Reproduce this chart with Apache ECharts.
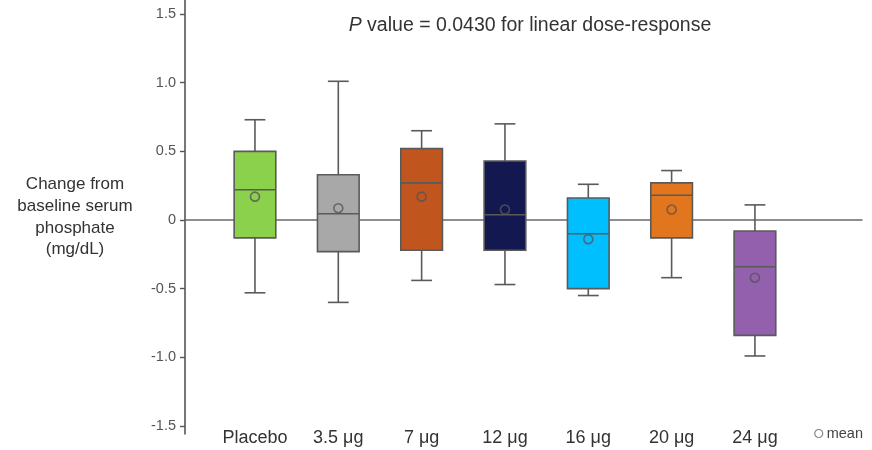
<!DOCTYPE html>
<html><head><meta charset="utf-8">
<script src="https://cdn.jsdelivr.net/npm/echarts@6/dist/echarts.min.js"></script>
<style>html,body{margin:0;padding:0;background:#fff}#c{width:872px;height:450px}</style>
</head><body><div id="c"></div>
<script>
const categories = ['Placebo', '3.5 μg', '7 μg', '12 μg', '16 μg', '20 μg', '24 μg'];
const whiskerLow  = [-0.53, -0.60, -0.44, -0.47, -0.55, -0.42, -0.99];
const q1          = [-0.13, -0.23, -0.22, -0.22, -0.50, -0.13, -0.84];
const medians     = [0.22, 0.045, 0.27, 0.038, -0.10, 0.18, -0.34];
const q3          = [0.50, 0.33, 0.52, 0.43, 0.16, 0.27, -0.08];
const whiskerHigh = [0.73, 1.01, 0.65, 0.70, 0.26, 0.36, 0.11];
const means       = [0.17, 0.086, 0.17, 0.076, -0.14, 0.076, -0.42];
const boxColors   = ['#8BD14B', '#A8A8A8', '#C0561E', '#141850', '#00BFFF', '#E2761E', '#9260AC'];
const yTicks = { min: -1.5, max: 1.5, interval: 0.5 };

const boxData = categories.map((c, i) => [i, whiskerLow[i], q1[i], medians[i], q3[i], whiskerHigh[i]]);
const meanData = categories.map((c, i) => [i, means[i]]);
const lineCol = '#5a5a5a';
const FONT = 'Liberation Sans';

const chart = echarts.init(document.getElementById('c'), null, { renderer: 'canvas' });
chart.setOption({
  animation: false,
  backgroundColor: '#fff',
  title: {
    text: '{i|P} value = 0.0430 for linear dose-response',
    left: 525, top: 11, textAlign: 'center',
    textStyle: { fontFamily: FONT, fontSize: 19.5, fontWeight: 'normal', color: '#333',
      rich: { i: { fontFamily: FONT, fontSize: 19.5, fontStyle: 'italic', color: '#333' } } }
  },
  legend: {
    data: [{ name: 'mean', icon: 'circle', itemStyle: { color: '#fff', borderColor: '#666', borderWidth: 1.2 } }],
    right: 4, bottom: 4, itemWidth: 8, itemHeight: 8, itemGap: 4,
    textStyle: { fontFamily: FONT, fontSize: 14.5, color: '#444', padding: [0, 0, 0, -1] }
  },
  grid: [
    { left: 185, right: 10, top: 0, bottom: 16 },
    { left: 213.3, width: 583.3, top: 14, bottom: 24 }
  ],
  xAxis: [
    { type: 'value', gridIndex: 0, min: 0, max: 1, show: true,
      axisLine: { show: true, onZero: true, lineStyle: { color: '#6a6a6a', width: 1.6 } },
      axisTick: { show: false }, axisLabel: { show: false }, splitLine: { show: false } },
    { type: 'category', gridIndex: 1, data: categories, boundaryGap: true,
      axisLine: { show: false }, axisTick: { show: false },
      axisLabel: { interval: 0, hideOverlap: false, fontFamily: FONT, fontSize: 18, color: '#333', margin: 3 },
      splitLine: { show: false } }
  ],
  yAxis: [
    { type: 'value', gridIndex: 0, min: -1.558, max: 1.602,
      axisLine: { show: true, lineStyle: { color: '#555', width: 1.6 } },
      axisTick: { show: false }, axisLabel: { show: false }, splitLine: { show: false },
      name: 'Change from\nbaseline serum\nphosphate\n(mg/dL)', nameLocation: 'middle', nameRotate: 0, nameGap: 110,
      nameTextStyle: { fontFamily: FONT, fontSize: 17, color: '#333', lineHeight: 21.7, align: 'center' } },
    { type: 'value', gridIndex: 1, min: yTicks.min, max: yTicks.max, interval: yTicks.interval,
      offset: 28.3,
      axisLine: { show: false },
      axisTick: { show: true, length: 5, lineStyle: { color: '#555', width: 1.4 } },
      axisLabel: { fontFamily: FONT, fontSize: 14.5, color: '#555', margin: 9,
        formatter: v => v === 0 ? '0' : v.toFixed(1) },
      splitLine: { show: false } }
  ],
  series: [
    {
      type: 'custom', xAxisIndex: 1, yAxisIndex: 1, data: boxData,
      renderItem: function (params, api) {
        const i = api.value(0);
        const lo = api.coord([i, api.value(1)]);
        const a = api.coord([i, api.value(2)]);
        const m = api.coord([i, api.value(3)]);
        const b = api.coord([i, api.value(4)]);
        const hi = api.coord([i, api.value(5)]);
        const bw = api.size([1, 0])[0] * 0.5;
        const cw = bw * 0.5;
        const x = a[0];
        const st = { stroke: lineCol, lineWidth: 1.6, fill: null };
        return {
          type: 'group',
          children: [
            { type: 'line', shape: { x1: x, y1: b[1], x2: x, y2: hi[1] }, style: st },
            { type: 'line', shape: { x1: x - cw / 2, y1: hi[1], x2: x + cw / 2, y2: hi[1] }, style: st },
            { type: 'line', shape: { x1: x, y1: a[1], x2: x, y2: lo[1] }, style: st },
            { type: 'line', shape: { x1: x - cw / 2, y1: lo[1], x2: x + cw / 2, y2: lo[1] }, style: st },
            { type: 'rect', shape: { x: x - bw / 2, y: b[1], width: bw, height: a[1] - b[1] },
              style: { fill: boxColors[params.dataIndex], stroke: lineCol, lineWidth: 1.6 } },
            { type: 'line', shape: { x1: x - bw / 2, y1: m[1], x2: x + bw / 2, y2: m[1] }, style: st }
          ]
        };
      }
    },
    {
      name: 'mean', type: 'scatter', xAxisIndex: 1, yAxisIndex: 1, data: meanData,
      symbol: 'circle', symbolSize: 9,
      itemStyle: { color: 'transparent', borderColor: '#555', borderWidth: 1.6 }, z: 5
    }
  ]
});
</script></body></html>
